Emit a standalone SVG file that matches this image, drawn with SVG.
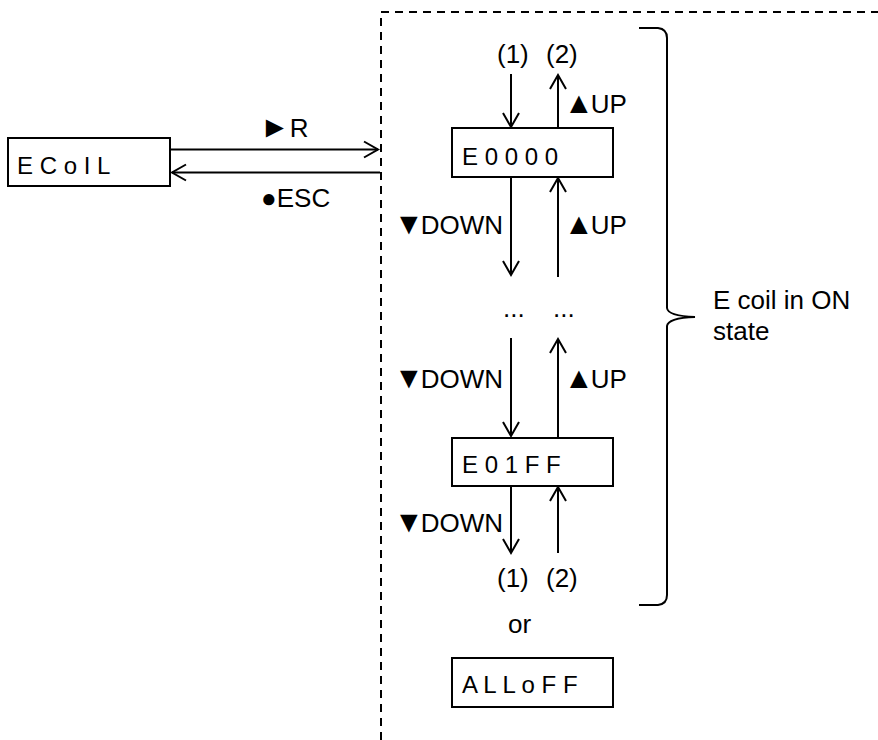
<svg xmlns="http://www.w3.org/2000/svg" width="878" height="740" viewBox="0 0 878 740">
<style>
.box{fill:#fff;stroke:#000;stroke-width:2}
.bt{font-family:"Liberation Sans",Arial,sans-serif;font-size:24px;fill:#000}
.lb{font-family:"Liberation Sans",Arial,sans-serif;font-size:26px;fill:#000}
.sy{font-size:30px}
.ln{stroke:#000;stroke-width:2;fill:none}
.dash{stroke:#000;stroke-width:2;fill:none;stroke-dasharray:8 6}
</style>
<defs>
<marker id="ah" markerUnits="userSpaceOnUse" viewBox="-16 -10 20 20" refX="0" refY="0" markerWidth="20" markerHeight="20" orient="auto">
<path d="M-14,-8 L0,0 L-14,8" fill="none" stroke="#000" stroke-width="2"/>
</marker>
</defs>
<rect width="878" height="740" fill="#fff"/>
<g id="frame">
<path class="dash" d="M381,740 L381,12 L878,12"/>
</g>
<g id="brace">
<path class="ln" d="M639,28 L658,28 Q667,29 667,38 L667,308 Q668,316 695,317 Q668,318 667,326 L667,595 Q667,604 658,605 L639,605"/>
<text class="lb" x="713" y="309">E coil in ON</text>
<text class="lb" x="713" y="340">state</text>
</g>
<g id="connectors">
<line class="ln" x1="171" y1="149.5" x2="378" y2="149.5" marker-end="url(#ah)"/>
<line class="ln" x1="380" y1="172.5" x2="172" y2="172.5" marker-end="url(#ah)"/>
<line class="ln" x1="511" y1="74" x2="511" y2="127" marker-end="url(#ah)"/>
<line class="ln" x1="558" y1="128" x2="558" y2="75" marker-end="url(#ah)"/>
<line class="ln" x1="511" y1="177" x2="511" y2="275" marker-end="url(#ah)"/>
<line class="ln" x1="558" y1="277" x2="558" y2="178" marker-end="url(#ah)"/>
<line class="ln" x1="511" y1="338" x2="511" y2="436" marker-end="url(#ah)"/>
<line class="ln" x1="558" y1="438" x2="558" y2="339" marker-end="url(#ah)"/>
<line class="ln" x1="511" y1="486" x2="511" y2="553" marker-end="url(#ah)"/>
<line class="ln" x1="558" y1="553" x2="558" y2="487" marker-end="url(#ah)"/>
<text class="lb" x="260" y="137"><tspan class="sy">►</tspan>R</text>
<text class="lb" x="261" y="207">●ESC</text>
<text class="lb" x="497" y="63">(1)</text>
<text class="lb" x="546" y="63">(2)</text>
<text class="lb" x="564" y="113"><tspan class="sy">▲</tspan><tspan dx="-3">UP</tspan></text>
<text class="lb" x="394" y="234"><tspan class="sy">▼</tspan><tspan dx="-3">DOWN</tspan></text>
<text class="lb" x="564" y="234"><tspan class="sy">▲</tspan><tspan dx="-3">UP</tspan></text>
<text class="lb" x="503" y="317">...</text>
<text class="lb" x="553" y="317">...</text>
<text class="lb" x="394" y="388"><tspan class="sy">▼</tspan><tspan dx="-3">DOWN</tspan></text>
<text class="lb" x="564" y="388"><tspan class="sy">▲</tspan><tspan dx="-3">UP</tspan></text>
<text class="lb" x="394" y="532"><tspan class="sy">▼</tspan><tspan dx="-3">DOWN</tspan></text>
<text class="lb" x="497" y="587">(1)</text>
<text class="lb" x="546" y="587">(2)</text>
<text class="lb" x="508" y="633">or</text>
</g>
<g id="ecoil">
<rect class="box" x="8" y="138" width="162" height="48"/>
<text class="bt" x="17" y="174" xml:space="preserve">E C o I L</text>
</g>
<g id="e0000">
<rect class="box" x="452" y="128" width="161" height="49"/>
<text class="bt" x="462" y="165" xml:space="preserve">E 0 0 0 0</text>
</g>
<g id="e01ff">
<rect class="box" x="452" y="438" width="161" height="48"/>
<text class="bt" x="462" y="473" xml:space="preserve">E 0 1 F F</text>
</g>
<g id="alloff">
<rect class="box" x="452" y="658" width="161" height="49"/>
<text class="bt" x="462" y="693" xml:space="preserve">A L L o F F</text>
</g>
</svg>
